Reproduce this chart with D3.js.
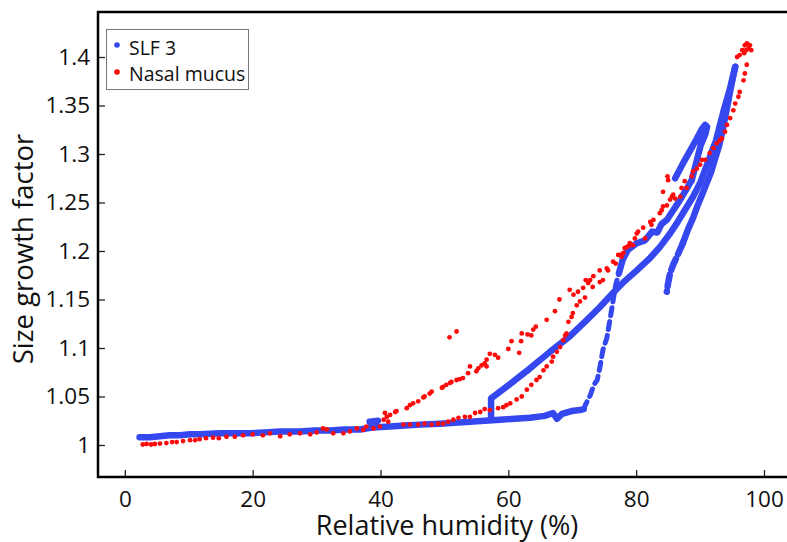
<!DOCTYPE html>
<meta charset="utf-8">
<script src="https://d3js.org/d3.v7.min.js"></script>
<style>
  body { margin: 0; background: #fff; }
  text { font-family: "Open Sans", "Noto Sans", sans-serif; fill: #111; }
</style>
<div id="chart"></div>
<script>

// ---- data (relative humidity %, size growth factor) ----
var xTicks = [0, 20, 40, 60, 80, 100];
var yTicks = [1, 1.05, 1.1, 1.15, 1.2, 1.25, 1.3, 1.35, 1.4];
var seriesNames = ["SLF 3", "Nasal mucus"];

// SLF 3 branches (dense dots, drawn as thick strokes)
var slfBaseline = [[2.3,1.008],[3.9,1.008],[5.5,1.009],[7.0,1.010],[8.6,1.010],[10.2,1.011],[11.7,1.011],[14.9,1.012],[17.2,1.012],[19.6,1.012],[21.9,1.013],[24.3,1.014],[27.4,1.014],[29.7,1.015],[32.1,1.015],[34.4,1.016],[36.8,1.016],[38.7,1.018],[41.5,1.019],[43.8,1.020],[46.2,1.021],[49.3,1.022],[51.6,1.023],[54.0,1.024],[56.3,1.025],[58.7,1.026],[61.0,1.027],[63.4,1.028],[65.7,1.030],[67.0,1.033],[67.6,1.027],[68.4,1.032],[69.9,1.035],[71.2,1.036],[71.8,1.037]];
var slfBlob = [[38.3,1.024],[39.6,1.025]];
var slfRising = [[71.8,1.037],[72.1,1.042],[72.8,1.051],[73.4,1.062],[73.9,1.067],[74.3,1.079],[74.8,1.098],[75.4,1.110],[75.9,1.129],[76.4,1.149],[76.8,1.165],[77.3,1.177]];
var slfUpper = [[77.3,1.177],[77.9,1.191],[78.7,1.201],[80.1,1.208],[81.4,1.211],[82.5,1.220],[83.3,1.219],[84.0,1.228],[84.8,1.232],[85.8,1.242],[86.9,1.253],[87.8,1.263],[88.7,1.273]];
var slfLoop = [[86.1,1.275],[87.3,1.290],[88.4,1.303],[89.5,1.316],[90.3,1.326],[90.8,1.330],[91.1,1.328],[90.8,1.320],[90.1,1.309],[89.7,1.299],[89.2,1.286],[88.7,1.273]];
var slfMain = [[57.3,1.026],[57.3,1.048],[58.7,1.055],[60.3,1.063],[63.4,1.079],[66.5,1.096],[69.6,1.112],[72.3,1.129],[74.3,1.142],[76.4,1.157],[78.2,1.169],[80.1,1.180],[82.2,1.193],[83.7,1.204],[85.3,1.218],[86.4,1.229],[87.6,1.242],[88.9,1.256],[90.0,1.270],[91.2,1.291],[92.5,1.314],[93.7,1.345],[94.7,1.368],[95.5,1.390]];
var slfReturn = [[95.5,1.390],[94.8,1.368],[94.2,1.347],[93.6,1.327],[93.0,1.309],[92.3,1.294],[91.7,1.281],[91.1,1.271],[90.3,1.258],[89.5,1.245],[88.9,1.234],[88.1,1.222],[87.3,1.208]];
var slfReturnLow = [[87.3,1.208],[86.5,1.196],[85.8,1.186],[85.3,1.177],[85.0,1.167],[84.8,1.158]];

// Nasal mucus points
var nasalLow = [[2.8,1.0005],[3.4,1.001],[4.1,1.0005],[4.7,1.001],[5.5,1.0015],[6.5,1.002],[7.4,1.003],[8.1,1.003],[9.1,1.004],[10.2,1.005],[11.0,1.005],[11.7,1.006],[12.7,1.007],[13.8,1.0075],[14.7,1.007],[15.9,1.0085],[17.2,1.0085],[18.5,1.010],[20.0,1.011],[21.6,1.010],[22.7,1.012],[24.3,1.009],[25.8,1.011],[27.4,1.012],[29.0,1.011],[30.0,1.013],[31.0,1.017],[31.6,1.016],[32.6,1.012],[34.2,1.012],[35.2,1.014],[36.3,1.017],[37.3,1.0155],[37.8,1.019],[38.9,1.017],[39.9,1.019]];
var nasalJump = [[40.7,1.033],[41.0,1.029],[41.5,1.031],[42.3,1.034],[42.5,1.035],[40.5,1.026],[41.2,1.024]];
var nasalUpper = [[44.1,1.038],[44.6,1.041],[45.1,1.043],[45.9,1.045],[46.7,1.049],[46.9,1.050],[47.7,1.053],[48.0,1.055],[49.6,1.059],[49.8,1.060],[50.3,1.062],[50.9,1.064],[51.1,1.065],[51.9,1.067],[52.4,1.068],[52.9,1.069],[53.7,1.074],[54.0,1.081],[55.0,1.076],[55.3,1.079],[55.8,1.082],[56.3,1.084],[56.6,1.088],[56.6,1.081],[57.1,1.094],[57.9,1.093],[58.4,1.090],[60.0,1.099],[60.5,1.107],[61.7,1.095],[62.0,1.107],[62.1,1.115],[63.0,1.114],[63.6,1.113],[63.9,1.119],[64.3,1.122],[66.0,1.129],[67.3,1.138],[68.0,1.150],[69.6,1.160],[70.2,1.155],[70.9,1.158],[71.7,1.162],[72.1,1.170],[72.5,1.167],[72.8,1.170],[73.3,1.174],[73.2,1.163],[74.3,1.180],[74.3,1.168],[74.8,1.170],[75.4,1.182],[75.6,1.180],[76.4,1.189],[76.8,1.187],[77.2,1.196],[77.5,1.196],[77.7,1.194],[78.0,1.198],[78.2,1.203],[78.5,1.204],[78.8,1.205],[79.0,1.208],[79.5,1.206],[79.8,1.213],[80.1,1.218],[80.3,1.220],[81.1,1.224],[81.4,1.213],[82.2,1.230],[82.4,1.227],[82.7,1.232],[83.7,1.239],[84.0,1.242],[84.2,1.246],[84.8,1.247],[85.3,1.253],[85.8,1.258],[86.1,1.254],[86.9,1.256],[87.1,1.265],[87.9,1.265],[87.6,1.272],[88.7,1.277],[88.9,1.282],[89.5,1.285],[90.0,1.289],[90.3,1.294],[90.8,1.294],[91.5,1.301],[92.1,1.306],[92.6,1.311],[93.1,1.314],[93.4,1.316],[93.9,1.323],[94.2,1.330],[94.7,1.337],[95.2,1.345],[95.5,1.352],[96.0,1.359],[96.2,1.364],[96.8,1.376],[97.0,1.383],[97.3,1.392]];
var nasalTop = [[95.8,1.400],[96.2,1.402],[96.6,1.407],[96.9,1.404],[97.2,1.407],[97.0,1.412],[97.5,1.413],[97.8,1.412],[97.6,1.409],[98.0,1.407],[97.3,1.414]];
var nasalOutliers = [[50.8,1.111],[51.9,1.117],[84.9,1.277],[85.0,1.273],[84.2,1.261],[85.6,1.256]];
var nasalLower = [[43.6,1.021],[44.6,1.021],[45.9,1.021],[46.9,1.022],[48.0,1.021],[49.0,1.022],[49.8,1.022],[50.6,1.024],[51.4,1.026],[52.2,1.028],[53.2,1.029],[54.0,1.029],[54.8,1.033],[55.6,1.034],[56.3,1.037],[57.1,1.036],[58.4,1.038],[59.2,1.039],[59.7,1.041],[60.3,1.043],[61.3,1.047],[62.1,1.050],[62.9,1.057],[63.6,1.062],[64.4,1.067],[64.9,1.070],[65.5,1.077],[66.0,1.081],[66.8,1.086],[67.0,1.091],[67.6,1.096],[68.1,1.101],[68.6,1.108],[68.9,1.113],[69.1,1.115],[69.4,1.127],[69.9,1.132],[70.1,1.136],[70.7,1.144],[71.2,1.148],[72.0,1.152]];

var blue = "#3548ef", red = "#ff0a0a";

// ---- layout ----
var W = 787, H = 542;
var plotLeft = 98, plotRight = 787, plotTop = 12, plotBottom = 477;

var svg = d3.select("#chart").append("svg")
    .attr("width", W)
    .attr("height", H);

var x = d3.scaleLinear().domain([-4.2, 103.6]).range([plotLeft, plotRight]);
var y = d3.scaleLinear().domain([0.967, 1.4464]).range([plotBottom, plotTop]);

var line = d3.line()
    .x(function (d) { return x(d[0]); })
    .y(function (d) { return y(d[1]); });

// SLF 3
var slfG = svg.append("g")
    .attr("fill", "none")
    .attr("stroke", blue)
    .attr("stroke-width", 6.5)
    .attr("stroke-linecap", "round")
    .attr("stroke-linejoin", "round");

[slfBaseline, slfBlob, slfUpper, slfLoop, slfMain, slfReturn].forEach(function (arr) {
    slfG.append("path").attr("d", line(arr));
});
slfG.append("path").attr("d", line(slfRising)).attr("stroke-width", 5).attr("stroke-dasharray", "8,6");
slfG.append("path").attr("d", line(slfReturnLow)).attr("stroke-dasharray", "12,5");

// Nasal mucus
var nasalAll = [].concat(nasalLow, nasalJump, nasalUpper, nasalTop, nasalOutliers, nasalLower);
svg.append("g")
    .selectAll("circle")
    .data(nasalAll)
    .enter()
    .append("circle")
    .attr("cx", function (d) { return x(d[0]); })
    .attr("cy", function (d) { return y(d[1]); })
    .attr("r", 2.4)
    .attr("fill", red);

// ---- axes ----
var fmt = function (v) { return String(+v.toFixed(2)); };

var xAxis = svg.append("g")
    .attr("transform", "translate(0," + plotBottom + ")")
    .call(d3.axisBottom(x).tickValues(xTicks).tickSize(-7).tickPadding(14).tickFormat(fmt));
var yAxis = svg.append("g")
    .attr("transform", "translate(" + plotLeft + ",0)")
    .call(d3.axisLeft(y).tickValues(yTicks).tickSize(-7).tickPadding(8).tickFormat(fmt));

[xAxis, yAxis].forEach(function (a) {
    a.select(".domain").remove();
    a.selectAll(".tick line").attr("stroke", "#222").attr("stroke-width", 1.3);
    a.selectAll(".tick text").style("font-size", "22.5px").attr("fill", "#111");
});

// frame lines (left, bottom, top)
svg.append("path")
    .attr("d", "M" + plotRight + "," + plotTop + "H" + plotLeft + "V" + plotBottom + "H" + plotRight)
    .attr("fill", "none")
    .attr("stroke", "#000")
    .attr("stroke-width", 2.5);

// axis titles
svg.append("text")
    .attr("x", 447)
    .attr("y", 535)
    .attr("text-anchor", "middle")
    .style("font-size", "27px")
    .text("Relative humidity (%)");

svg.append("text")
    .attr("transform", "translate(33,249) rotate(-90)")
    .attr("text-anchor", "middle")
    .style("font-size", "27.5px")
    .text("Size growth factor");

// ---- legend ----
var legend = svg.append("g");
legend.append("rect")
    .attr("x", 106.5).attr("y", 29.5)
    .attr("width", 142).attr("height", 60)
    .attr("fill", "#fff")
    .attr("stroke", "#777")
    .attr("stroke-width", 1);

[blue, red].forEach(function (c, i) {
    legend.append("circle")
        .attr("cx", 117).attr("cy", 45 + i * 27)
        .attr("r", 2.8).attr("fill", c);
    legend.append("text")
        .attr("x", 129).attr("y", 55 + i * 26)
        .style("font-size", "19.5px")
        .text(seriesNames[i]);
});

</script>
